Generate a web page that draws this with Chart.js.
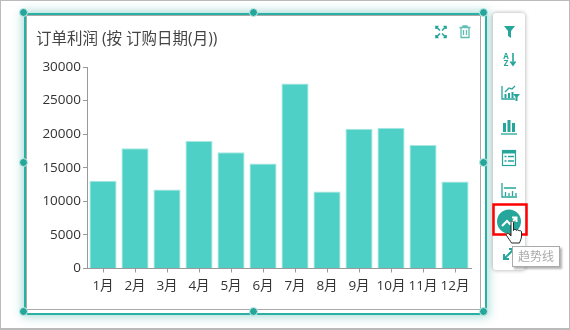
<!DOCTYPE html>
<html>
<head>
<meta charset="utf-8">
<script src="https://cdn.jsdelivr.net/npm/chart.js@4"></script>
<style>
html, body { margin: 0; padding: 0; background: #fff; }
#page { position: relative; width: 570px; height: 330px; overflow: hidden; box-sizing: border-box; border: 1px solid #bbb; border-bottom-width: 2px; font-family: "Open Sans", "Noto Sans CJK SC", sans-serif; }
#page > * { position: absolute; }
/* everything below is placed in window coords, page border is 1px */
#frame { left: 23px; top: 12px; width: 459px; height: 298px; border: 2px solid #2bb0a4; box-shadow: 0 0 9px 2px rgba(38,166,154,.38); background: #fff; }
#card { left: 25px; top: 14px; width: 453px; height: 293px; border: 1px solid #aaa; background: #fff; }
#chart { left: 27px; top: 16px; }
.handle { width: 7px; height: 7px; border-radius: 50%; background: #26a69a; border: 1.5px solid #c8ece8; }
#toolbar { left: 492px; top: 12px; width: 32px; height: 257px; background: #fff; border-radius: 3px; box-shadow: 0 0 4px rgba(0,0,0,.35); }
#icons { left: -1px; top: -1px; }
#tip { left: 511px; top: 245px; width: 46px; height: 19px; line-height: 19px; text-align: center; font-size: 12px; color: #aaa; background: #fff; border: 1px solid #aaa; box-shadow: 2px 2px 2px rgba(0,0,0,.3); }
</style>
</head>
<body>
<div id="page">
  <div id="frame"></div>
  <div id="card"></div>
  <canvas id="chart" width="452" height="292"></canvas>
  <div id="toolbar"></div>
  <svg id="icons" width="570" height="330" fill="none" stroke="none">
    <!-- chart corner icons -->
    <g stroke="#26a69a" stroke-width="1.6">
      <path d="M436 29v-2.500h2.500M446 29v-2.500h-2.500M436 35v2.500h2.500M446 35v2.500h-2.500M437 27.500l3 3M445 27.500l-3 3M437 36.500l3-3M445 36.500l-3-3"/>
    </g>
    <g stroke="#5fbdb4" stroke-width="1.3">
      <path d="M459.500 27.500h11M463 27.500v-1.500h4v1.500M461 27.500v10h8v-10M463.500 30v5M466.500 30v5"/>
    </g>
    <!-- toolbar icons -->
    <path d="M504 26h11l-4 5v7l-3-2v-5z" fill="#26a69a"/>
    <text x="506" y="59" font-size="8" font-weight="700" fill="#26a69a" text-anchor="middle" font-family="Open Sans">A</text>
    <text x="506" y="66" font-size="8" font-weight="700" fill="#26a69a" text-anchor="middle" font-family="Open Sans">Z</text>
    <path d="M513 53v11M510.500 61.500l2.500 3.500 2.500-3.500" stroke="#26a69a" stroke-width="1.6"/>
    <g stroke="#26a69a" stroke-width="1.3">
      <path d="M502 86v13h13"/>
      <path d="M505 92l4-4 3 1 3-3"/>
      <path d="M505.500 98v-4M509 98v-5M512.500 98v-6" stroke-width="2"/>
    </g>
    <path d="M513 94h7l-2.500 3v4h-2v-4z" fill="#26a69a"/>
    <path d="M503 132v-9h3v9zM507.500 132v-12h3v12zM512 132v-9h3v9z" fill="#26a69a"/>
    <path d="M501 134h16" stroke="#26a69a" stroke-width="1.3"/>
    <rect x="502.500" y="150.500" width="13" height="15" stroke="#26a69a" stroke-width="1.2"/>
    <path d="M502 152h14" stroke="#26a69a" stroke-width="3"/>
    <path d="M504.500 156.500h2M508 156.500h6M504.500 161h2M508 161h6" stroke="#26a69a" stroke-width="1.3"/>
    <path d="M502 183v14h15M505.500 196v-4M509 196v-3M512.500 196v-5M516 196v-3M504 188h12" stroke="#26a69a" stroke-width="1.3"/>
    <!-- selected button -->
    <rect x="493.500" y="204.500" width="33" height="30" stroke="#ff0000" stroke-width="2.500"/>
    <circle cx="509" cy="221.500" r="12" fill="#26a69a"/>
    <path d="M502 226l5-5 3 3 6-6M512 217.500h4.500v4.500" stroke="#fff" stroke-width="2"/>
    <path d="M504 259l10-10M504 254v5h5M514 254v-5h-5" stroke="#26a69a" stroke-width="2"/>
    <!-- hand cursor -->
    <path d="M511 222.500c0-2 2.500-2 2.500 0v8c.5-1.500 2.500-1.500 2.800 0 .5-1 2.500-1 2.700.5.7-.8 2.500-.5 2.500 1v4c0 3-1.500 5-2 7h-8c-1-2-3.500-5-5-7.500-.8-1.500 1-3 2.500-1.500l2 2z" fill="#fff" stroke="#1e2a2a" stroke-width="1"/>
  </svg>
  <div id="tip">趋势线</div>
</div>
<script>
var months = ["1月", "2月", "3月", "4月", "5月", "6月", "7月", "8月", "9月", "10月", "11月", "12月"];
var profit = [13050, 17900, 11750, 19000, 17300, 15650, 27550, 11450, 20800, 20950, 18400, 12950];
var yTicks = [0, 5000, 10000, 15000, 20000, 25000, 30000];
var chartTitle = "订单利润 (按 订购日期(月))";

var handle_pos = [[24,13],[254,13],[484,13],[24,163],[484,163],[24,312],[254,312],[484,312]];
var page = document.getElementById("page");
handle_pos.forEach(function(p) {
    var h = document.createElement("div");
    h.className = "handle";
    h.style.left = (p[0] - 6) + "px";
    h.style.top = (p[1] - 6) + "px";
    page.appendChild(h);
});

var font_family = '"Open Sans", "Noto Sans CJK SC", sans-serif';
var axis_color = "#999";

new Chart(document.getElementById("chart").getContext("2d"), {
    type: "bar",
    data: {
        labels: months,
        datasets: [{
            label: "订单利润",
            data: profit,
            backgroundColor: "#4fd0c6",
            borderColor: "#a6e8e2",
            borderWidth: 1,
            barPercentage: 0.85,
            categoryPercentage: 1
        }]
    },
    options: {
        responsive: false,
        animation: false,
        events: [],
        layout: { padding: { left: 8, right: 9, top: 0, bottom: 0 } },
        plugins: {
            legend: { display: false },
            tooltip: { enabled: false },
            title: {
                display: true,
                text: chartTitle,
                align: "start",
                color: "#444",
                font: { family: font_family, size: 15.5, weight: "normal", lineHeight: 1.2 },
                padding: { top: 13, bottom: 18.4 }
            }
        },
        scales: {
            x: {
                grid: { display: true, offset: false, drawOnChartArea: false, tickLength: 4, tickColor: axis_color },
                border: { color: axis_color },
                ticks: { color: "#333", padding: 6, maxRotation: 0, autoSkip: false, font: { family: font_family, size: 13.5 } },
                afterFit: function(scale) { scale.height = 40.5; }
            },
            y: {
                min: 0,
                max: 30000,
                afterBuildTicks: function(scale) {
                    scale.ticks = yTicks.map(function(v) { return { value: v }; });
                },
                grid: { display: true, drawOnChartArea: false, tickLength: 4, tickColor: axis_color },
                border: { color: axis_color },
                ticks: {
                    color: "#333",
                    padding: 2,
                    font: { family: font_family, size: 13.5 },
                    callback: function(v) { return String(v); }
                },
                afterFit: function(scale) { scale.width = 51; }
            }
        }
    }
});
</script>
</body>
</html>
